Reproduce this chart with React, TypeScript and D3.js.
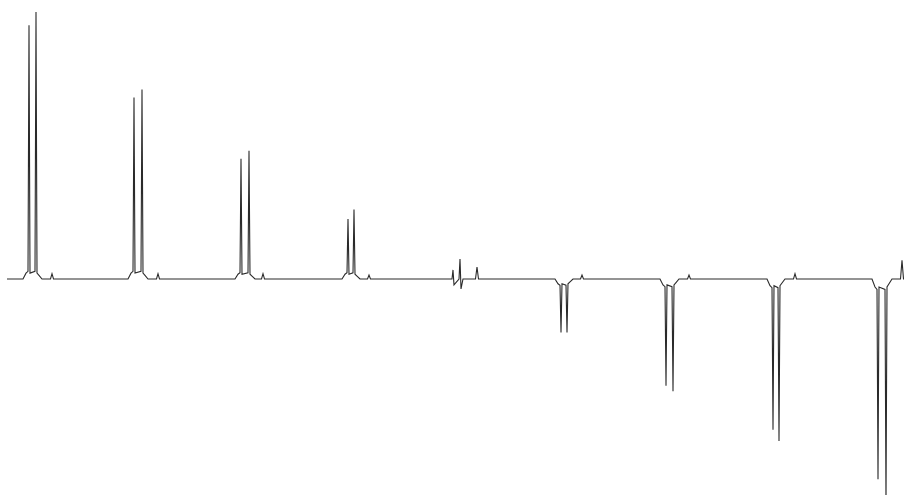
import React, { useRef, useEffect } from 'react'
import * as d3 from 'd3'

// peak positions (arbitrary frequency units) and intensities
const peakAX = [2.9, 13.4, 24.1, 34.8, 45.3, 56.1, 66.6, 77.3, 87.8]
const peakBX = [3.6, 14.2, 24.9, 35.4, 46.0, 56.7, 67.3, 77.9, 88.6]
const peakAH = [95, 68, 45, 22.5, 3.4, -20, -40, -56.5, -75]
const peakBH = [100, 71, 48, 26, 7.5, -20, -42, -60.7, -84]
const dipA = [0, 0, 0, 0, -2.2, 0, 0, 0, 0]
const dipB = [0, 0, 0, 0, -3.7, 0, 0, 0, 0]
const footH = [2.2, 2.2, 1.8, 1.8, 0, -1.8, -2.2, -2.5, -3]
const satX = [5.2, 15.8, 26.3, 36.9, 47.7, 58.2, 68.9, 79.5, 90.2]
const satH = [2, 2, 2, 1.5, 4.5, 1.5, 1.5, 2, 7]
const xStart = 0.7
const xEnd = 90.4

type Pt = [number, number]

const buildSpectrum = (): Pt[] => {
    const pts: Pt[] = [[xStart, 0]]
    peakAX.forEach((xa, i) => {
        const xb = peakBX[i]
        const f = footH[i]
        pts.push(
            [xa - 0.6, 0],
            [xa - 0.3, f],
            [xa - 0.1, f * 1.3],
            [xa, peakAH[i]],
            [xa + 0.1, dipA[i] || f],
            [xb - 0.1, f * 1.3],
            [xb, peakBH[i]],
            [xb + 0.1, dipB[i] || f],
            [xb + 0.3, f * 0.6],
            [xb + 0.6, 0],
            [satX[i] - 0.15, 0],
            [satX[i], satH[i]],
            [satX[i] + 0.15, 0],
        )
    })
    pts.push([xEnd, 0])
    return pts
}

export default function App() {
    const svgRef = useRef<SVGSVGElement>(null)
    const width = 904
    const height = 495

    useEffect(() => {
        const svg = d3.select(svgRef.current)
        svg.selectAll('*').remove()

        const xScale = d3.scaleLinear().domain([0, 90.4]).range([0, width])
        const yScale = d3.scaleLinear().domain([-80.9, 104.5]).range([height, 0])

        const line = d3
            .line<Pt>()
            .x((d) => xScale(d[0]))
            .y((d) => yScale(d[1]))

        svg.append('path')
            .datum(buildSpectrum())
            .attr('d', line)
            .attr('fill', 'none')
            .attr('stroke', '#2a2a2a')
            .attr('stroke-width', 1.1)
            .attr('stroke-linejoin', 'miter')
    }, [])

    return (
        <div style={{ position: 'fixed', left: 0, top: 0, background: '#fff' }}>
            <svg ref={svgRef} width={width} height={height} style={{ display: 'block' }} />
        </div>
    )
}
